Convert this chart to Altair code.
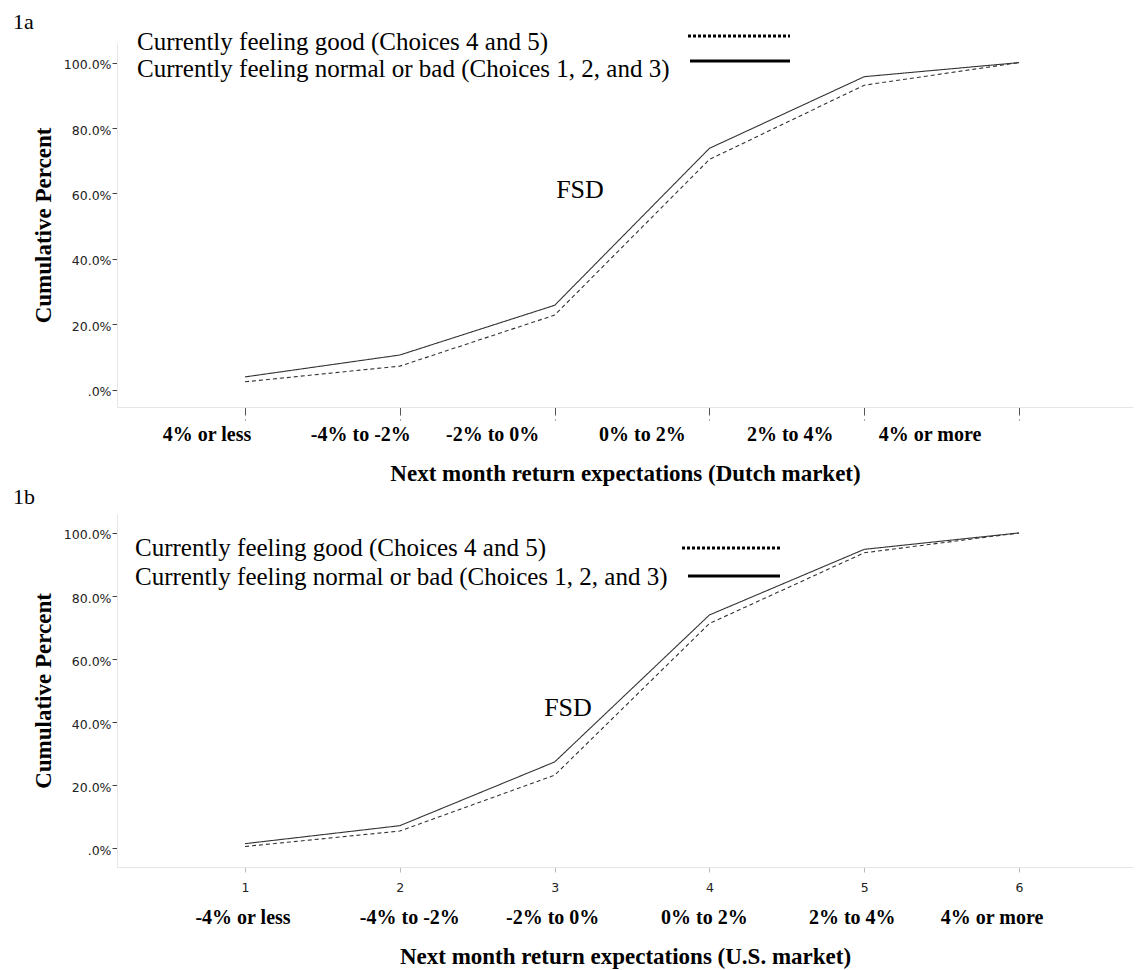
import altair as alt
import pandas as pd

# ---------------- data ----------------
cats = [1, 2, 3, 4, 5, 6]
dutch_good = [2.4, 7.2, 22.8, 70.4, 93.1, 100.0]
dutch_bad = [3.9, 10.6, 25.8, 73.8, 95.7, 100.0]
us_good = [0.6, 5.5, 23.2, 71.3, 93.7, 100.0]
us_bad = [1.5, 7.2, 27.4, 74.0, 94.8, 100.0]

labels_dutch = ["4% or less", "-4% to -2%", "-2% to 0%", "0% to 2%", "2% to 4%", "4% or more"]
labels_us = ["-4% or less", "-4% to -2%", "-2% to 0%", "0% to 2%", "2% to 4%", "4% or more"]
y_ticks = [0, 20, 40, 60, 80, 100]
legend_good = "Currently feeling good (Choices 4 and 5)"
legend_bad = "Currently feeling normal or bad (Choices 1, 2, and 3)"
title_dutch = "Next month return expectations (Dutch market)"
title_us = "Next month return expectations (U.S. market)"

# ---------------- styling ----------------
SERIF = "Liberation Serif"
SANS = "DejaVu Sans"
W = 1016
XDOM = [0.173, 6.736]
PX_PER_UNIT = W / (XDOM[1] - XDOM[0])
shift_dutch = [-38, -39, -62, -67, -74, -89]
shift_us = [-2, 10, -2, -5, -12, -27]

xscale = alt.Scale(domain=XDOM, nice=False, zero=False)
one = alt.InlineData(values=[{"a": 1}])


def y_axis():
    return alt.Axis(
        values=y_ticks,
        labelExpr="datum.value == 0 ? '.0%' : format(datum.value, '.1f') + '%'",
        labelFont=SANS, labelFontSize=12.5, labelColor="#222",
        labelPadding=1, labelOffset=2,
        tickSize=5, tickColor="#444", tickWidth=1,
        domainColor="#e6e6e6", grid=False,
        title="Cumulative Percent", titleFont=SERIF, titleFontSize=23,
        titleFontWeight="bold", titleColor="black", titlePadding=8,
    )


def panel(tag, good, bad, labels, shifts, xaxis, h, ydom, lab_y, leg, fsd):
    df = pd.DataFrame({
        "x": cats * 2,
        "v": good + bad,
        "s": ["good"] * len(cats) + ["bad"] * len(cats),
    })
    lines = alt.Chart(df).mark_line(strokeWidth=1.1, color="#333").encode(
        x=alt.X("x:Q", scale=xscale, axis=xaxis),
        y=alt.Y("v:Q", scale=alt.Scale(domain=ydom, nice=False, zero=False), axis=y_axis()),
        strokeDash=alt.StrokeDash(
            "s:N",
            scale=alt.Scale(domain=["good", "bad"], range=[[4, 3], [1, 0]]),
            legend=None,
        ),
        detail="s:N",
    )

    lab_df = pd.DataFrame({"x": cats, "label": labels, "shift": shifts})
    cat_text = alt.Chart(lab_df).transform_calculate(
        xp=f"datum.x + datum.shift / {PX_PER_UNIT}"
    ).mark_text(
        font=SERIF, fontSize=20, fontWeight="bold", color="black",
        align="center", baseline="middle",
    ).encode(
        x=alt.X("xp:Q", scale=xscale, axis=xaxis),
        y=alt.value(lab_y),
        text="label:N",
    )

    tag_text = alt.Chart(one).mark_text(
        text=tag, font=SERIF, fontSize=22, color="black", align="left", baseline="middle"
    ).encode(x=alt.value(-104), y=alt.value(leg["tag_y"]))

    lg1 = alt.Chart(one).mark_text(
        text=legend_good, font=SERIF, fontSize=25, color="black", align="left", baseline="middle"
    ).encode(x=alt.value(leg["tx"]), y=alt.value(leg["y1"]))
    lg2 = alt.Chart(one).mark_text(
        text=legend_bad, font=SERIF, fontSize=25, color="black", align="left", baseline="middle"
    ).encode(x=alt.value(leg["tx"]), y=alt.value(leg["y2"]))
    r1 = alt.Chart(one).mark_rule(strokeWidth=3, color="black", strokeDash=[3, 2]).encode(
        x=alt.value(leg["d_x1"]), x2=alt.value(leg["x2"]), y=alt.value(leg["d_y"])
    )
    r2 = alt.Chart(one).mark_rule(strokeWidth=3, color="black").encode(
        x=alt.value(leg["s_x1"]), x2=alt.value(leg["x2"]), y=alt.value(leg["s_y"])
    )
    fsd_text = alt.Chart(one).mark_text(
        text="FSD", font=SERIF, fontSize=26, color="black", align="center", baseline="middle"
    ).encode(x=alt.value(fsd[0]), y=alt.value(fsd[1]))

    return alt.layer(lines, cat_text, tag_text, lg1, lg2, r1, r2, fsd_text).properties(
        width=W, height=h
    )


xaxis_a = alt.Axis(
    values=cats, labels=False, grid=False,
    tickSize=13, tickColor="#555", tickDash=[8, 4], tickWidth=1,
    domainColor="#e6e6e6",
    title=title_dutch, titleFont=SERIF, titleFontSize=23, titleFontWeight="bold",
    titleColor="black", titlePadding=42,
)
xaxis_b = alt.Axis(
    values=cats, format="d", grid=False,
    labelFont=SANS, labelFontSize=12.5, labelColor="#222", labelPadding=9,
    tickSize=5, tickColor="#bbb", domainColor="#e6e6e6",
    title=title_us, titleFont=SERIF, titleFontSize=23, titleFontWeight="bold",
    titleColor="black", titlePadding=52,
)

p1 = panel(
    "1a", dutch_good, dutch_bad, labels_dutch, shift_dutch, xaxis_a,
    364, [-5.3, 106.0], 392,
    dict(tag_y=-21, tx=20, y1=-1, y2=26, d_x1=571, s_x1=573, x2=673, d_y=-7, s_y=18),
    (463, 147),
)
p2 = panel(
    "1b", us_good, us_bad, labels_us, shift_us, xaxis_b,
    353, [-5.9, 106.0], 404,
    dict(tag_y=-17, tx=18, y1=34, y2=63, d_x1=565, s_x1=571, x2=663, d_y=34, s_y=62),
    (451, 194),
)

chart = alt.vconcat(p1, p2, spacing=107, bounds="flush").properties(
    padding={"left": 5, "top": 3, "right": 0, "bottom": 0},
    background="white",
).configure_view(stroke=None)

chart.save("out.html", embed_options={"renderer": "svg", "actions": False})
